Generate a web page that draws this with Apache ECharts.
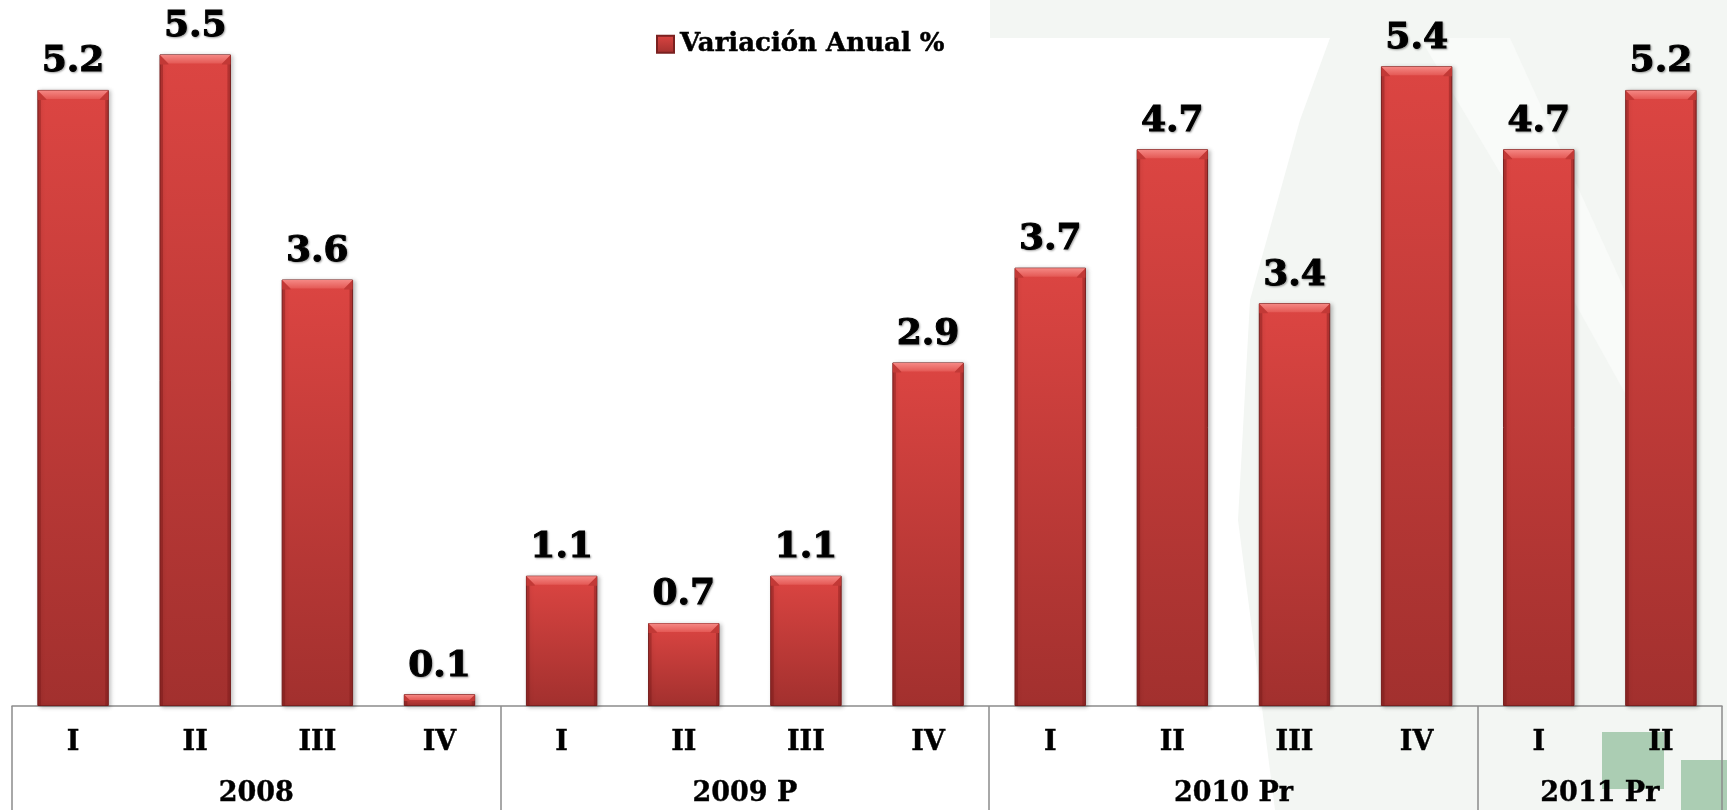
<!DOCTYPE html>
<html>
<head>
<meta charset="utf-8">
<title>Variación Anual %</title>
<script src="https://cdn.jsdelivr.net/npm/echarts@6/dist/echarts.min.js"></script>
<style>
  html, body { margin: 0; padding: 0; background: #fff; }
  #chart { width: 1727px; height: 810px; }
</style>
</head>
<body>
<div id="chart"></div>
<script>
// trimestres y años
const quarters = ['I', 'II', 'III', 'IV', 'I', 'II', 'III', 'IV', 'I', 'II', 'III', 'IV', 'I', 'II']
const years = ['2008', '2009 P', '2010 Pr', '2011 Pr']
const quartersPerYear = [4, 4, 4, 2]
// variación anual %
const variacion = [5.2, 5.5, 3.6, 0.1, 1.1, 0.7, 1.1, 2.9, 3.7, 4.7, 3.4, 5.4, 4.7, 5.2]

const BAR_RATIO = 0.585
const FONT = 'DejaVu Serif'

// eje de años: una entrada por frontera entre trimestres
const yearBounds = [0]
quartersPerYear.forEach(n => yearBounds.push(yearBounds[yearBounds.length - 1] + n))
const yearAxisData = new Array(quarters.length + 1).fill('')
years.forEach((y, i) => {
    yearAxisData[(yearBounds[i] + yearBounds[i + 1]) / 2] = y
})

const chart = echarts.init(document.getElementById('chart'))

function renderBevel(params, api) {
    const idx = api.value(0)
    const v = api.value(1)
    const top = api.coord([idx, v])
    const base = api.coord([idx, 0])
    const w = api.size([1, 0])[0] * BAR_RATIO
    const x0 = top[0] - w / 2
    const x1 = top[0] + w / 2
    const y0 = top[1]
    const h = base[1] - y0
    const b = Math.min(9, h / 2)
    return {
        type: 'group',
        children: [
            {
                type: 'rect',
                shape: { x: x0 + 0.5, y: y0 + b, width: 3, height: h - b },
                style: { fill: 'rgba(110,20,20,0.35)' }
            },
            {
                type: 'rect',
                shape: { x: x1 - 3.5, y: y0 + b, width: 3, height: h - b },
                style: { fill: 'rgba(110,20,20,0.35)' }
            },
            {
                type: 'polygon',
                shape: { points: [[x0 + 0.5, y0 + 0.5], [x0 + b, y0 + b], [x0 + b, y0 + b + 1], [x0 + 0.5, y0 + b + 1]] },
                style: { fill: '#c23936' }
            },
            {
                type: 'polygon',
                shape: { points: [[x1 - 0.5, y0 + 0.5], [x1 - b, y0 + b], [x1 - b, y0 + b + 1], [x1 - 0.5, y0 + b + 1]] },
                style: { fill: '#c23936' }
            },
            {
                type: 'polygon',
                shape: { points: [[x0 + 0.5, y0 + 0.5], [x1 - 0.5, y0 + 0.5], [x1 - b, y0 + b], [x0 + b, y0 + b]] },
                style: {
                    fill: new echarts.graphic.LinearGradient(0, 0, 0, 1, [
                        { offset: 0, color: '#f58884' },
                        { offset: 1, color: '#e45955' }
                    ])
                }
            }
        ]
    }
}

const boldText = { fontFamily: FONT, fontWeight: 'bold', color: '#000', textBorderColor: '#000', textBorderWidth: 0.6 }

chart.setOption({
    animation: false,
    backgroundColor: '#ffffff',
    graphic: [
        // marca de agua de fondo
        {
            type: 'polygon', z: -10, silent: true,
            shape: { points: [[990, 0], [1727, 0], [1727, 810], [1275, 810], [1238, 520], [1250, 300], [1300, 120], [1330, 38], [990, 38]] },
            style: { fill: '#f3f6f3' }
        },
        {
            type: 'polygon', z: -9, silent: true,
            shape: { points: [[1420, 38], [1510, 38], [1620, 280], [1680, 420], [1640, 420], [1540, 240]] },
            style: { fill: '#f9fbf9' }
        },
        {
            type: 'rect', z: -8, silent: true,
            shape: { x: 1602, y: 732, width: 62, height: 57 },
            style: { fill: '#abcdb3' }
        },
        {
            type: 'rect', z: -8, silent: true,
            shape: { x: 1681, y: 760, width: 46, height: 50 },
            style: { fill: '#abcdb3' }
        }
    ],
    legend: {
        data: [{ name: 'Variación Anual %', icon: 'rect' }],
        left: 651,
        top: 26,
        itemWidth: 17,
        itemHeight: 17,
        itemGap: 10,
        textStyle: Object.assign({}, boldText, { fontSize: 26, textBorderWidth: 0.5, padding: [0, 0, 0, 1] })
    },
    grid: { left: 12, right: 5, top: 7, bottom: 104 },
    xAxis: [
        {
            type: 'category',
            data: quarters,
            position: 'bottom',
            axisLine: { show: true, lineStyle: { color: '#8c8c8c', width: 1.5 } },
            axisTick: { show: false },
            axisLabel: Object.assign({ margin: 23, fontSize: 27 }, boldText, { textBorderWidth: 0.4 })
        },
        {
            type: 'category',
            data: yearAxisData,
            boundaryGap: false,
            position: 'bottom',
            axisLine: { show: false },
            axisTick: {
                show: true,
                length: 110,
                interval: (i) => yearBounds.includes(i),
                lineStyle: { color: '#8c8c8c', width: 1.5 }
            },
            axisLabel: Object.assign({ margin: 74, interval: 0, fontSize: 27 }, boldText, { textBorderWidth: 0.4 })
        }
    ],
    yAxis: {
        type: 'value',
        min: 0,
        max: 5.9,
        show: false
    },
    series: [
        {
            name: 'Variación Anual %',
            type: 'bar',
            xAxisIndex: 0,
            data: variacion,
            barWidth: (BAR_RATIO * 100) + '%',
            itemStyle: {
                color: new echarts.graphic.LinearGradient(0, 0, 0, 1, [
                    { offset: 0, color: '#dc4542' },
                    { offset: 1, color: '#a2302e' }
                ]),
                borderColor: '#7a2120',
                borderWidth: 1,
                shadowColor: 'rgba(0,0,0,0.25)',
                shadowBlur: 4,
                shadowOffsetX: 2,
                shadowOffsetY: 1
            },
            label: Object.assign({
                show: true,
                position: 'top',
                distance: 10,
                formatter: (p) => p.value.toFixed(1),
                fontSize: 36,
                textShadowColor: 'rgba(0,0,0,0.3)',
                textShadowBlur: 2,
                textShadowOffsetX: 1,
                textShadowOffsetY: 1
            }, boldText, { textBorderWidth: 1 })
        },
        {
            name: 'bisel',
            type: 'custom',
            xAxisIndex: 0,
            silent: true,
            z: 3,
            renderItem: renderBevel,
            encode: { x: 0, y: 1 },
            data: variacion.map((v, i) => [i, v])
        }
    ]
})
</script>
</body>
</html>
